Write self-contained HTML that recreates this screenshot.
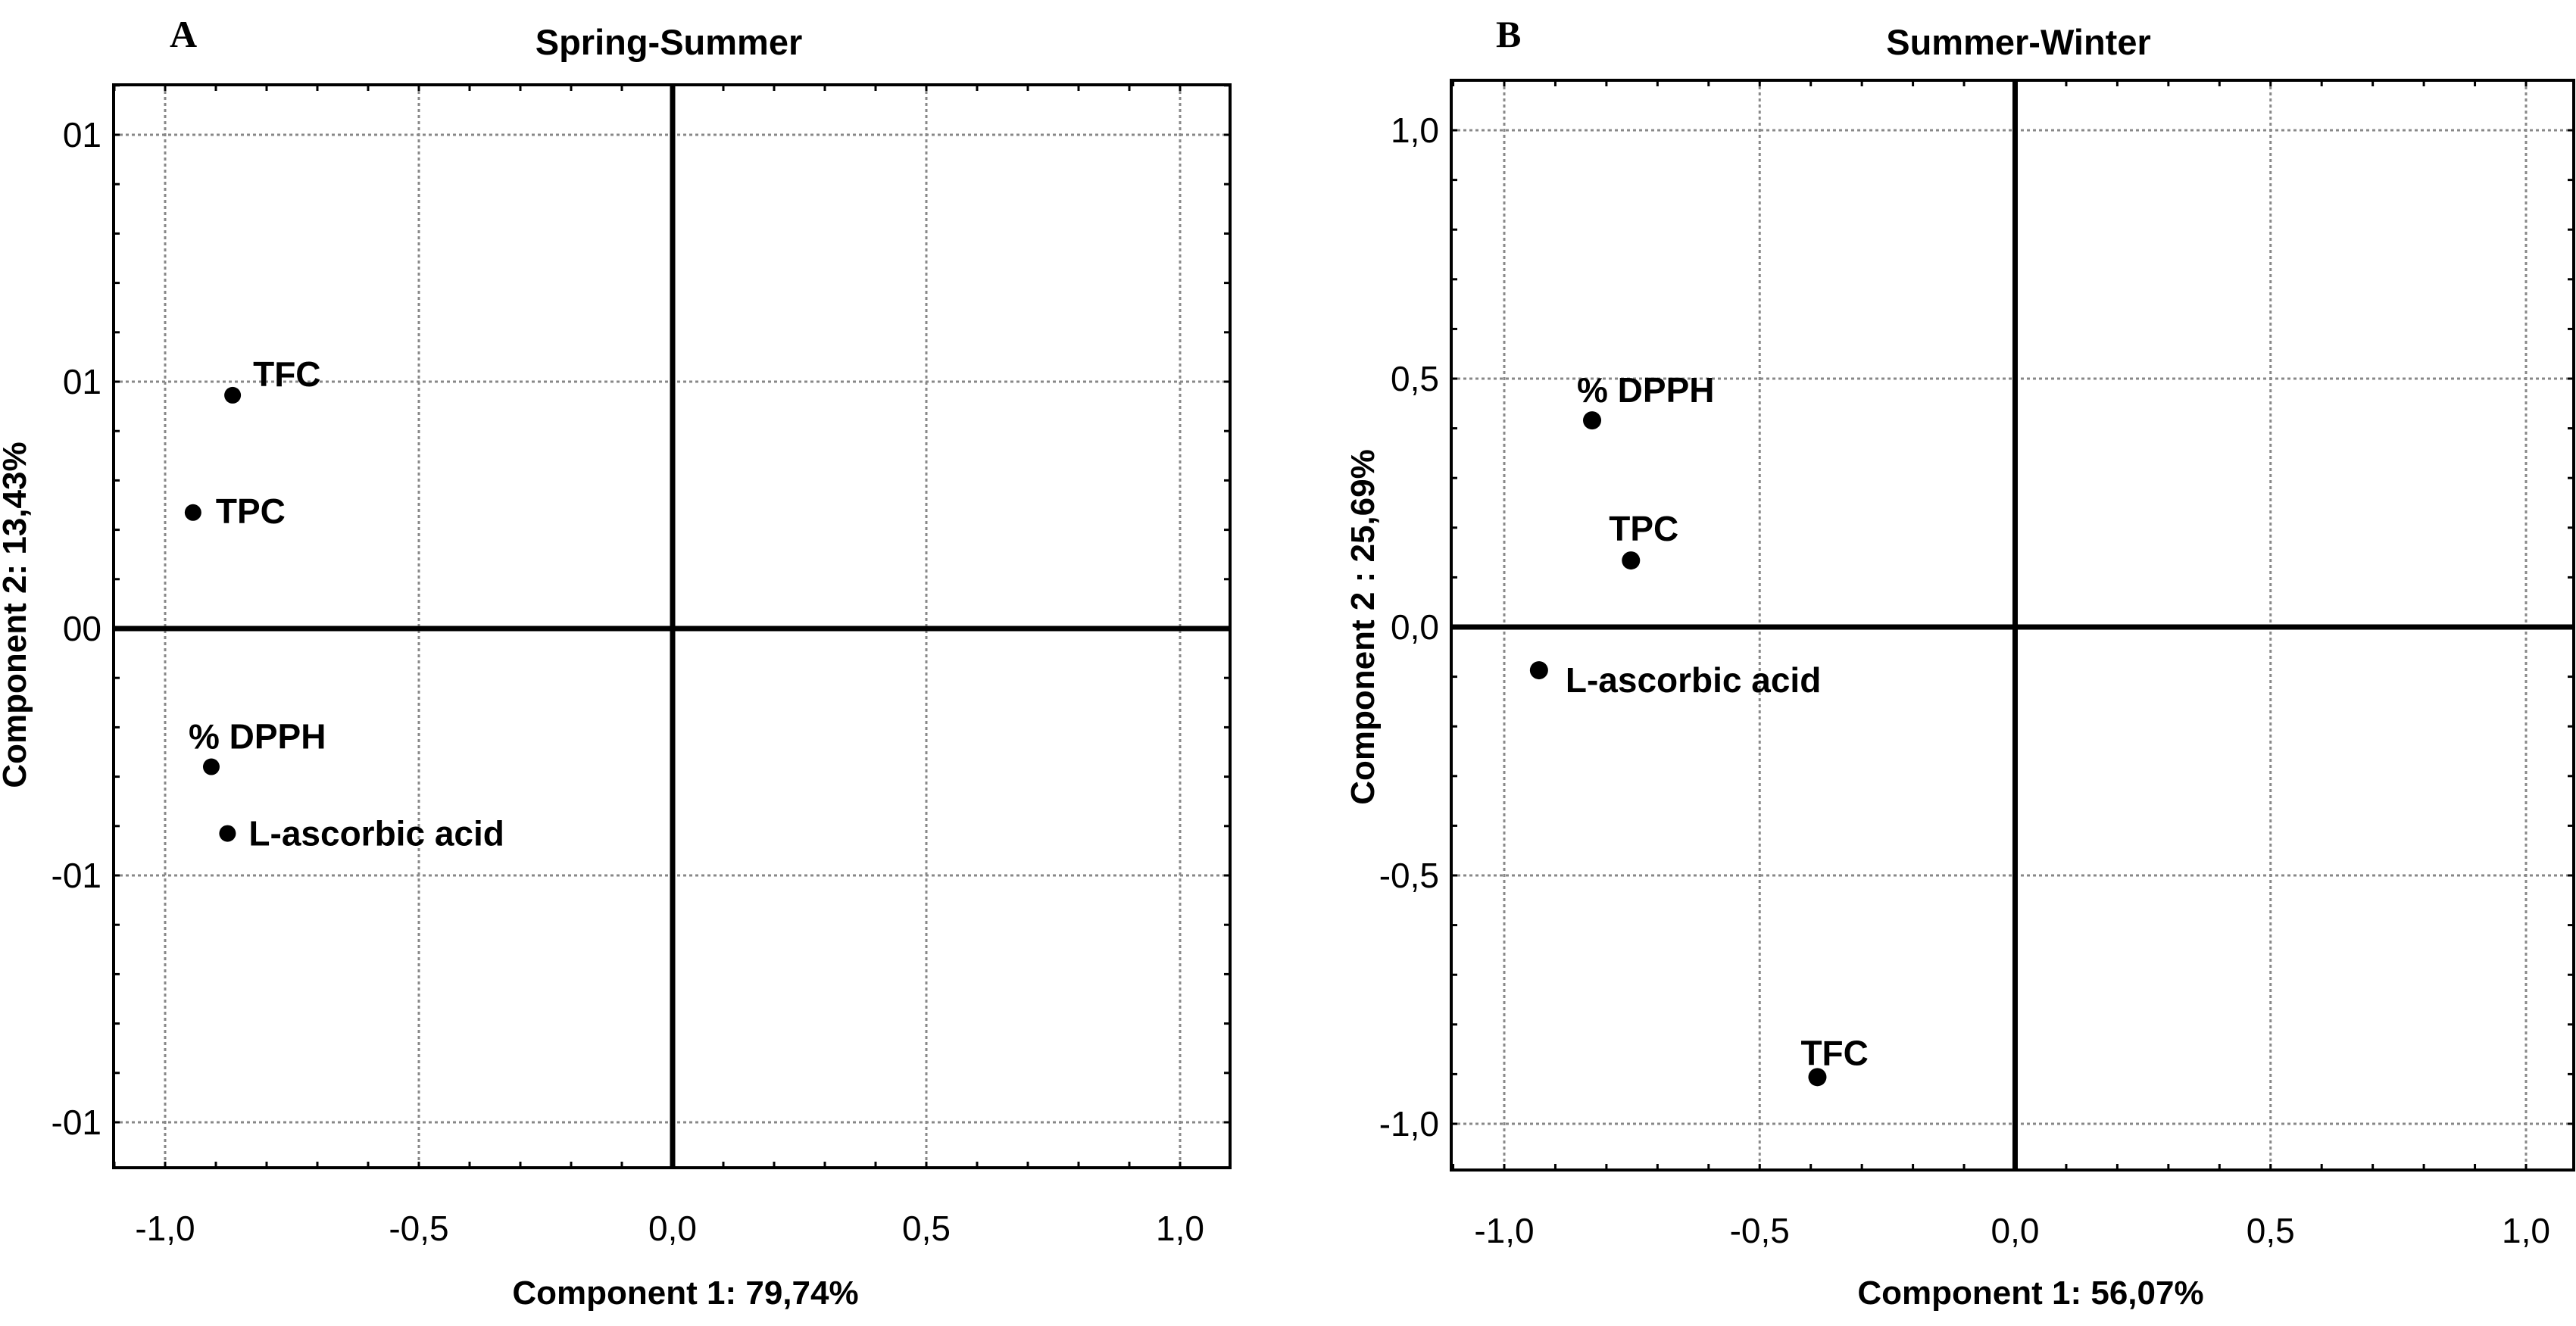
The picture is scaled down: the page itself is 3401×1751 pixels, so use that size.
<!DOCTYPE html>
<html><head><meta charset="utf-8"><style>
html,body{margin:0;padding:0;background:#fff;}
svg{display:block;}
text{font-family:"Liberation Sans",Arial,sans-serif;}
</style></head><body>
<svg id="fig" width="3401" height="1751" viewBox="0 0 3401 1751" xmlns="http://www.w3.org/2000/svg"></svg>
<script>
// Panel A data
const aNames = ["TFC","TPC","% DPPH","L-ascorbic acid"];
const aX = [-0.867,-0.945,-0.909,-0.877];
const aY = [0.0945,0.047,-0.056,-0.083];
const aYTicks = [0.2,0.1,0,-0.1,-0.2];
const aYTickLabels = ["01","01","00","-01","-01"];
// Panel B data
const bNames = ["% DPPH","TPC","L-ascorbic acid","TFC"];
const bX = [-0.828,-0.752,-0.932,-0.387];
const bY = [0.416,0.134,-0.087,-0.906];
const bYTicks = [1,0.5,0,-0.5,-1];
const bYTickLabels = ["1,0","0,5","0,0","-0,5","-1,0"];
const xTicks = [-1,-0.5,0,0.5,1];
const xTickLabels = ["-1,0","-0,5","0,0","0,5","1,0"];

const NS="http://www.w3.org/2000/svg";
const svg=document.getElementById('fig');
function mk(tag,attrs,parent,txt){const e=document.createElementNS(NS,tag);for(const k in attrs)e.setAttribute(k,attrs[k]);if(txt!==undefined)e.textContent=txt;(parent||svg).appendChild(e);return e;}

function panel(cfg){
  const g=mk('g',{});
  
  
  const sx=v=>cfg.x0+(v-(-1))*(cfg.x1-cfg.x0)/2;
  const sy=v=>cfg.yz-(v)*cfg.ypu;
  xTicks.forEach(t=>{const l=mk('line',{x1:sx(t),x2:sx(t),y1:cfg.top,y2:cfg.bot,stroke:'#888','stroke-width':3,'stroke-dasharray':'4,4'},g);
    });
  cfg.yTicks.forEach(t=>{const l=mk('line',{x1:cfg.left,x2:cfg.right,y1:sy(t),y2:sy(t),stroke:'#888','stroke-width':3,'stroke-dasharray':'4,4'},g);
    });
  for(let v=-1.1;v<=1.1001;v+=0.1){const x=sx(v);if(x<cfg.left||x>cfg.right)continue;
    mk('line',{x1:x,x2:x,y1:cfg.bot,y2:cfg.bot-8,stroke:'#000','stroke-width':3},g);
    mk('line',{x1:x,x2:x,y1:cfg.top,y2:cfg.top+8,stroke:'#000','stroke-width':3},g);}
  const ys=cfg.minorStep;
  for(let v=-cfg.yMax;v<=cfg.yMax+1e-6;v+=ys){const y=sy(v);if(y<cfg.top||y>cfg.bot)continue;
    mk('line',{x1:cfg.left,x2:cfg.left+8,y1:y,y2:y,stroke:'#000','stroke-width':3},g);
    mk('line',{x1:cfg.right,x2:cfg.right-8,y1:y,y2:y,stroke:'#000','stroke-width':3},g);}
  const va=mk('line',{x1:sx(0),x2:sx(0),y1:cfg.top,y2:cfg.bot,stroke:'#000','stroke-width':7},g);
  
  const ha=mk('line',{x1:cfg.left,x2:cfg.right,y1:sy(0),y2:sy(0),stroke:'#000','stroke-width':7},g);
  
  const fr=mk('rect',{x:cfg.left,y:cfg.top,width:cfg.right-cfg.left,height:cfg.bot-cfg.top,fill:'none',stroke:'#000','stroke-width':4},g);
  
  xTicks.forEach((t,i)=>{const e=mk('text',{x:sx(t),y:cfg.bot+96,'font-size':46,'text-anchor':'middle'},g,xTickLabels[i]);
    });
  cfg.yTicks.forEach((t,i)=>{const e=mk('text',{x:cfg.left-16,y:sy(t)+16,'font-size':46,'text-anchor':'end'},g,cfg.yTickLabels[i]);
    });
  cfg.xs.forEach((xv,i)=>{const cx=sx(xv),cy=sy(cfg.ys[i]);
    const c=mk('circle',{cx:cx,cy:cy,r:cfg.r,fill:'#000'},g);
    
    
    const o=cfg.offs[i];
    const t=mk('text',{x:cx+o[0],y:cy+o[1],'font-size':46,'font-weight':'bold'},g,cfg.names[i]);
    
    });
  const L=mk('text',{x:cfg.letterX,y:62,'font-size':50,'font-weight':'bold'},g,cfg.letter);
  L.style.fontFamily='"Liberation Serif",serif';
  
  const T=mk('text',{x:cfg.titleX,y:72,'font-size':47,'font-weight':'bold','text-anchor':'middle'},g,cfg.title);
  
  const XT=mk('text',{x:cfg.xtX,y:1722,'font-size':44,'font-weight':'bold','text-anchor':'middle'},g,cfg.xTitle);
  
  const YT=mk('text',{x:0,y:0,'font-size':44,'font-weight':'bold','text-anchor':'middle',transform:`translate(${cfg.ytX},${cfg.ytY}) rotate(-90)`},g,cfg.yTitle);
  
}

panel({id:'panel-a',left:150,right:1624,top:112,bot:1542,x0:218,x1:1558,yz:830,ypu:3260,
  yTicks:aYTicks,yTickLabels:aYTickLabels,yMax:0.24,minorStep:0.02,
  xs:aX,ys:aY,names:aNames,r:11,offs:[[27,-12],[30,14],[-30,-24],[28,16]],
  letter:'A',letterX:224,title:'Spring-Summer',titleX:883,xTitle:'Component 1: 79,74%',xtX:905,
  yTitle:'Component 2: 13,43%',ytX:34,ytY:812});
panel({id:'panel-b',left:1916,right:3398,top:106,bot:1545,x0:1986,x1:3335,yz:828,ypu:656,
  yTicks:bYTicks,yTickLabels:bYTickLabels,yMax:1.2,minorStep:0.1,
  xs:bX,ys:bY,names:bNames,r:12,offs:[[-20,-24],[-29,-26],[35,29],[-22,-16]],
  letter:'B',letterX:1975,title:'Summer-Winter',titleX:2665,xTitle:'Component 1: 56,07%',xtX:2681,
  yTitle:'Component 2 : 25,69%',ytX:1814,ytY:828});
</script>
</body></html>
